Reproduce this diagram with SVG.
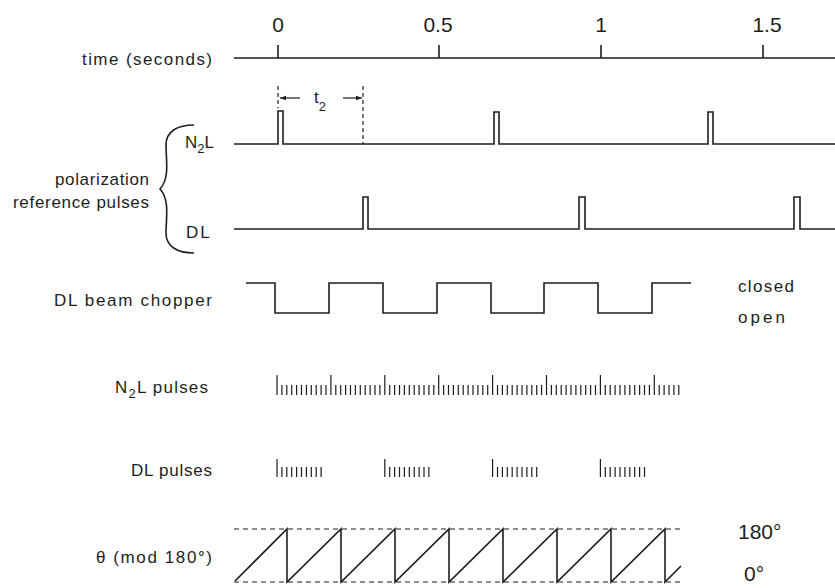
<svg xmlns="http://www.w3.org/2000/svg" width="835" height="588" viewBox="0 0 835 588">
<defs>
<style>
.ln{fill:none;stroke:#1e1e1e;stroke-width:1.6;stroke-linejoin:miter}
.tk{fill:none;stroke:#1e1e1e;stroke-width:1.2}
.ds{fill:none;stroke:#1e1e1e;stroke-width:1.2;stroke-dasharray:5 4}
.lb{font-family:"Liberation Sans","DejaVu Sans",sans-serif;font-size:17px;fill:#1e1e1e}
.num{font-family:"Liberation Sans","DejaVu Sans",sans-serif;font-size:21px;fill:#1e1e1e}
.sub{font-size:13px}
</style>
<marker id="ah" viewBox="0 0 8 8" refX="8" refY="4" markerWidth="6" markerHeight="6" orient="auto" markerUnits="userSpaceOnUse">
<path d="M0,1 L8,4 L0,7 Z" fill="#1e1e1e"/>
</marker>
</defs>

<g id="time-axis">
<path class="ln" d="M234,58 H835 M278,45 V58 M439,45 V58 M601,45 V58 M763,45 V58"/>
<text class="num" x="278" y="32" text-anchor="middle">0</text>
<text class="num" x="438" y="32" text-anchor="middle">0.5</text>
<text class="num" x="601" y="32" text-anchor="middle">1</text>
<text class="num" x="767" y="32" text-anchor="middle">1.5</text>
<text class="lb" x="82" y="65" textLength="130" lengthAdjust="spacing">time (seconds)</text>
</g>

<g id="t2-marker">
<path class="ds" d="M278,86 V108 M363,86 V144" style="stroke-dasharray:4 3"/>
<path class="tk" d="M300,98 H280" marker-end="url(#ah)"/>
<path class="tk" d="M343,98 H362" marker-end="url(#ah)"/>
<text class="lb" x="314" y="103">t<tspan class="sub" dy="8">2</tspan></text>
</g>

<g id="reference-pulses">
<path class="ln" d="M194,125 C178,125 166,131 166,145 C166,160 170,178 160,189 C170,200 166,218 166,233 C166,247 178,253 194,253"/>
<text class="lb" x="55" y="185" textLength="94" lengthAdjust="spacing">polarization</text>
<text class="lb" x="13" y="208" textLength="136" lengthAdjust="spacing">reference pulses</text>
</g>

<g id="n2l-reference">
<text class="lb" x="185" y="148">N<tspan class="sub" dy="5">2</tspan><tspan dy="-5">L</tspan></text>
<path class="ln" d="M234,144 H278 V111 H283 V144 H494 V112 H499 V144 H708 V112 H713 V144 H835"/>
</g>

<g id="dl-reference">
<text class="lb" x="186" y="238" letter-spacing="2">DL</text>
<path class="ln" d="M234,229 H363 V197 H368 V229 H579 V197 H585 V229 H794 V197 H800 V229 H835"/>
</g>

<g id="beam-chopper">
<text class="lb" x="54" y="306" textLength="158" lengthAdjust="spacing">DL beam chopper</text>
<path class="ln" d="M246,283 H275 V313 H329 V283 H383 V313 H437 V283 H491 V313 H544 V283 H598 V313 H652 V283 H691"/>
<text class="lb" x="738" y="292" textLength="56" lengthAdjust="spacing">closed</text>
<text class="lb" x="738" y="323" textLength="47" lengthAdjust="spacing">open</text>
</g>

<g id="n2l-pulses">
<text class="lb" x="115" y="393" letter-spacing="1.2">N<tspan class="sub" dy="5">2</tspan><tspan dy="-5">L pulses</tspan></text>
<path class="tk" d="M277,375V395 M330.9,375V395 M384.8,375V395 M438.7,375V395 M492.6,375V395 M546.5,375V395 M600.4,375V395 M654.3,375V395"/>
<path class="tk" d="M281.9,385V395 M286.8,385V395 M291.7,385V395 M296.6,385V395 M301.5,385V395 M306.4,385V395 M311.3,385V395 M316.2,385V395 M321.1,385V395 M326,385V395
M335.8,385V395 M340.7,385V395 M345.6,385V395 M350.5,385V395 M355.4,385V395 M360.3,385V395 M365.2,385V395 M370.1,385V395 M375,385V395 M379.9,385V395
M389.7,385V395 M394.6,385V395 M399.5,385V395 M404.4,385V395 M409.3,385V395 M414.2,385V395 M419.1,385V395 M424,385V395 M428.9,385V395 M433.8,385V395
M443.6,385V395 M448.5,385V395 M453.4,385V395 M458.3,385V395 M463.2,385V395 M468.1,385V395 M473,385V395 M477.9,385V395 M482.8,385V395 M487.7,385V395
M497.5,385V395 M502.4,385V395 M507.3,385V395 M512.2,385V395 M517.1,385V395 M522,385V395 M526.9,385V395 M531.8,385V395 M536.7,385V395 M541.6,385V395
M551.4,385V395 M556.3,385V395 M561.2,385V395 M566.1,385V395 M571,385V395 M575.9,385V395 M580.8,385V395 M585.7,385V395 M590.6,385V395 M595.5,385V395
M605.3,385V395 M610.2,385V395 M615.1,385V395 M620,385V395 M624.9,385V395 M629.8,385V395 M634.7,385V395 M639.6,385V395 M644.5,385V395 M649.4,385V395
M659.2,385V395 M664.1,385V395 M669,385V395 M673.9,385V395 M678.8,385V395"/>
</g>

<g id="dl-pulses">
<text class="lb" x="131" y="476" textLength="81" lengthAdjust="spacing">DL pulses</text>
<path class="tk" d="M277,459V477 M384.8,459V477 M492.6,459V477 M600.4,459V477"/>
<path class="tk" d="M281.9,467V477 M286.8,467V477 M291.7,467V477 M296.6,467V477 M301.5,467V477 M306.4,467V477 M311.3,467V477 M316.2,467V477 M321.1,467V477
M389.7,467V477 M394.6,467V477 M399.5,467V477 M404.4,467V477 M409.3,467V477 M414.2,467V477 M419.1,467V477 M424,467V477 M428.9,467V477
M497.5,467V477 M502.4,467V477 M507.3,467V477 M512.2,467V477 M517.1,467V477 M522,467V477 M526.9,467V477 M531.8,467V477 M536.7,467V477
M605.3,467V477 M610.2,467V477 M615.1,467V477 M620,467V477 M624.9,467V477 M629.8,467V477 M634.7,467V477 M639.6,467V477 M644.5,467V477"/>
</g>

<g id="theta">
<text class="lb" x="96" y="563" textLength="116" lengthAdjust="spacing">θ (mod 180°)</text>
<path class="ds" d="M234,529 H682 M234,582 H682"/>
<path class="ln" d="M235,581 L287,529 V582 L341,529 V582 L395,529 V582 L449,529 V582 L503,529 V582 L557,529 V582 L611,529 V582 L665,529 V582 L681,566"/>
<text class="num" x="738" y="539">180°</text>
<text class="num" x="744" y="581">0°</text>
</g>
</svg>
